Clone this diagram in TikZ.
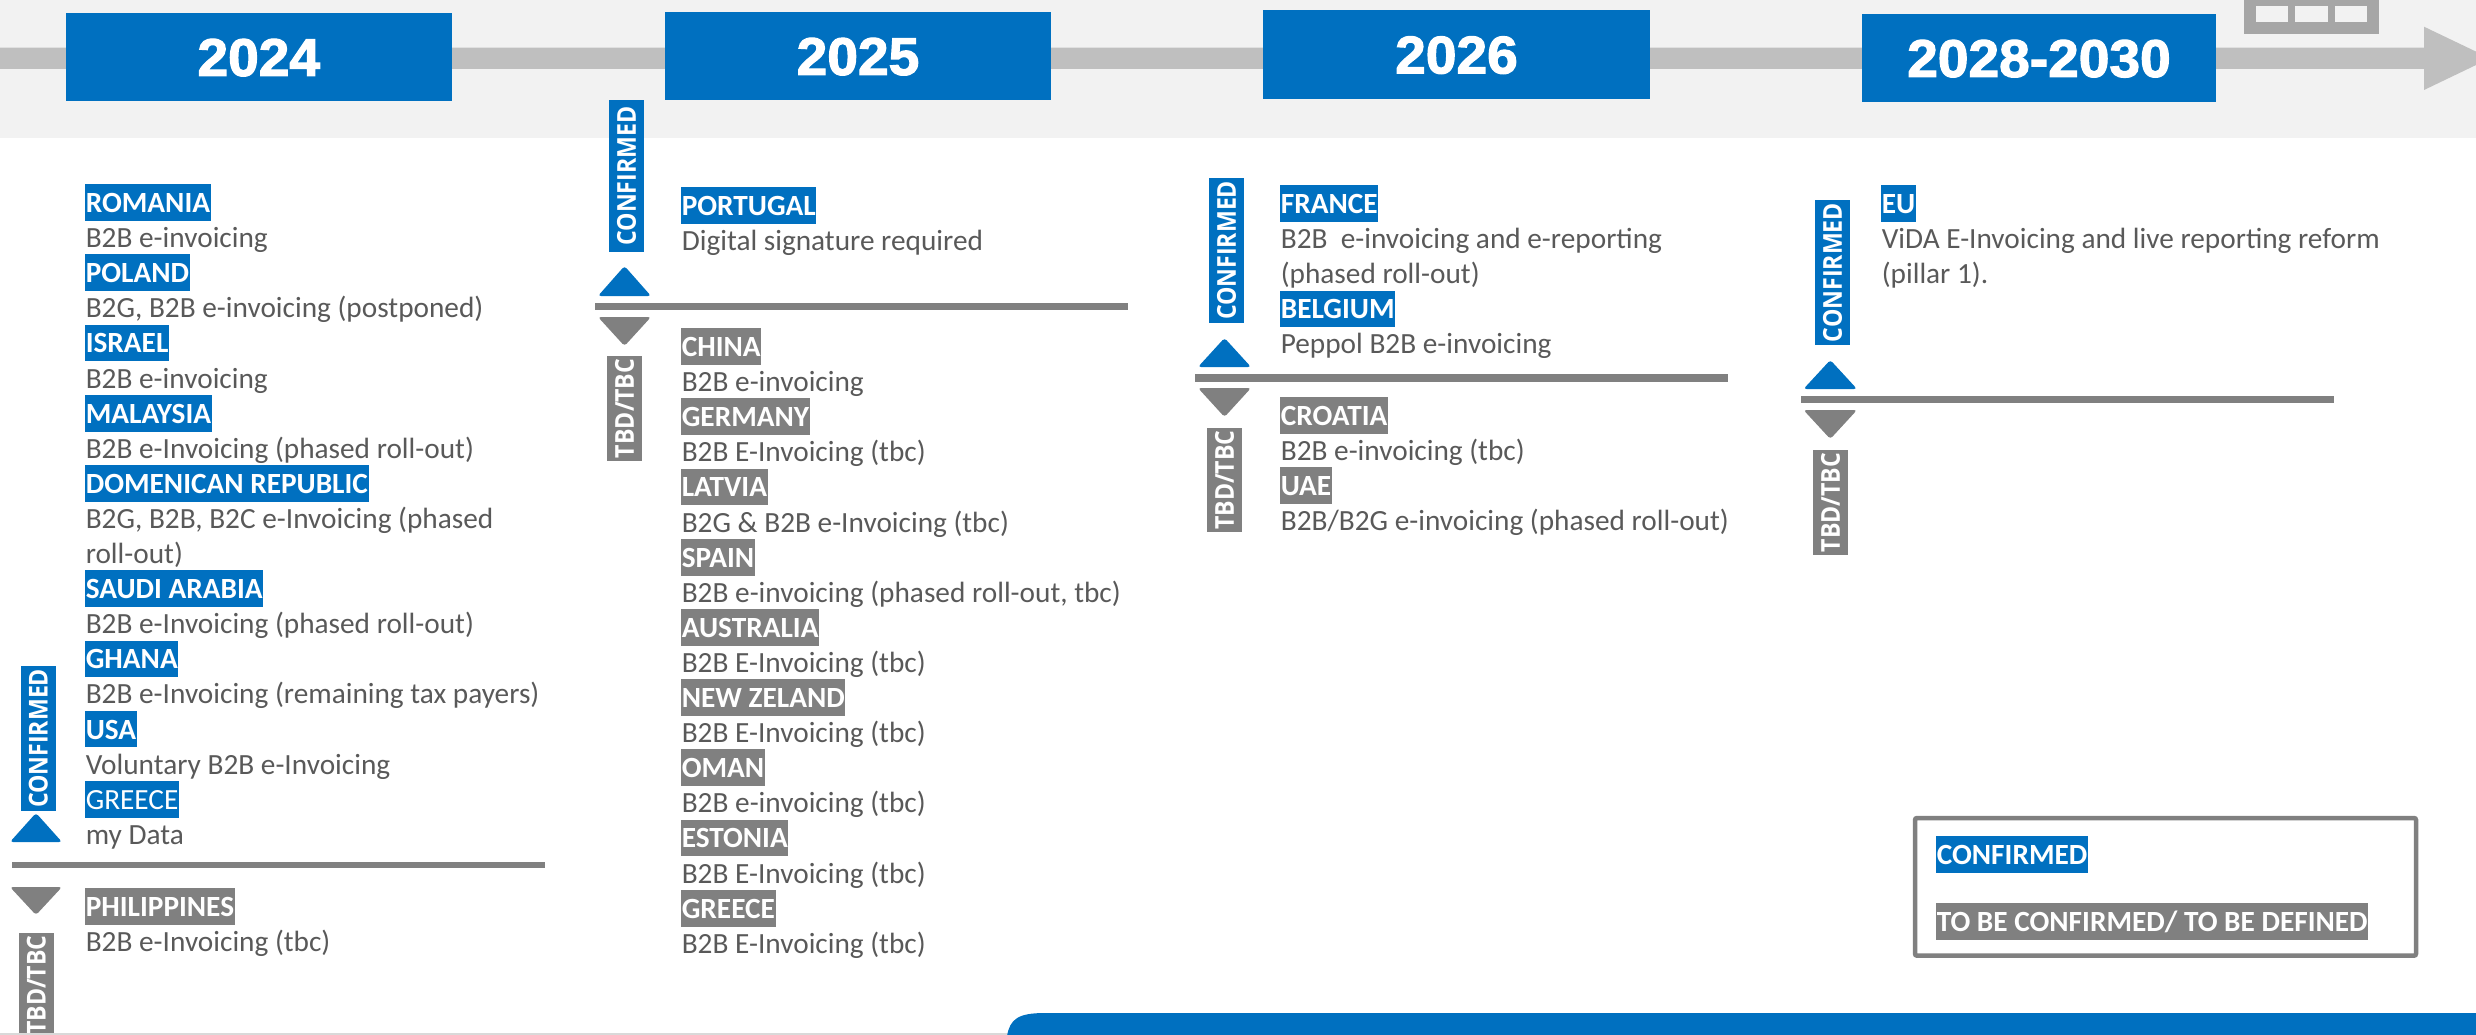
\documentclass[tikz,border=0pt]{standalone}
\usepackage{fontspec}
\usepackage{graphicx}
\setmainfont{Carlito}
\newfontfamily\yearfont{Liberation Sans}[UprightFont={* Bold}, FakeBold=2.2, FakeStretch=1.04]
\newfontfamily\vlabfont{Open Sans}
\definecolor{cblue}{HTML}{0070C0}
\definecolor{cgray}{HTML}{808080}
\definecolor{ctext}{HTML}{595959}
\definecolor{cband}{HTML}{F2F2F2}
\definecolor{cbar}{HTML}{BFBFBF}
\definecolor{cicon}{HTML}{A6A6A6}
\definecolor{cline}{HTML}{D9D9D9}
\newcommand\bodysize{\fontsize{29.3}{35.1}\selectfont}
\tikzset{
  lbl/.style={anchor=north west, inner xsep=0.6pt, inner ysep=0pt, text height=28.3pt, text depth=8.4pt, text=white, font=\bodysize\bfseries},
  bluelbl/.style={lbl, fill=cblue},
  graylbl/.style={lbl, fill=cgray},
  desc/.style={anchor=north west, inner sep=0pt, text height=28.3pt, text depth=8.4pt, text=ctext, font=\bodysize},
  yearbox/.style={fill=cblue, text=white, inner sep=0pt, text height=38pt, text depth=0pt, font=\yearfont\fontsize{53}{53}\selectfont},
  vlab/.style={rotate=90, inner sep=0pt, text=white, text height=18.6pt, text depth=0pt, minimum height=34.8pt, font=\vlabfont\bfseries\fontsize{26}{26}\selectfont},
  sepline/.style={fill=cgray},
  uptri/.style={fill=cblue, rounded corners=3pt},
  downtri/.style={fill=cgray, rounded corners=3pt}
}
\newcommand\vconf{\scalebox{0.89}[1]{CONFIRMED}}
\newcommand\vtbd{\scalebox{0.89}[1]{TBD/TBC}}
\begin{document}
\begin{tikzpicture}[x=1pt,y=-1pt]
\useasboundingbox (0,0) rectangle (2476,1035);
\clip (0,0) rectangle (2476,1035);
% top band
\fill[cband] (0,0) rectangle (2476,138);
\fill[cbar] (0,47.7) -- (2424,47.7) -- (2424,26.7) -- (2490,58.3) -- (2424,90) -- (2424,69) -- (0,69) -- cycle;
% icon
\fill[cicon] (2244,-2) rectangle (2379,33.7);
\fill[cband] (2256,6) rectangle (2288,21.7);
\fill[cband] (2295,6) rectangle (2328,21.7);
\fill[cband] (2335,6) rectangle (2367,21.7);
% years
\node[yearbox, minimum width=386.4pt, minimum height=87.7pt] (y2024) at (258.8,56.9) {2024};
\node[yearbox, minimum width=386pt, minimum height=87.7pt] (y2025) at (858,55.9) {2025};
\node[yearbox, minimum width=387pt, minimum height=88.7pt] (y2026) at (1456.5,54.4) {2026};
\node[yearbox, minimum width=354pt, minimum height=87.7pt] (y2028) at (2039,57.9) {2028-2030};

% ---------- 2024 ----------
\node[vlab, fill=cblue, minimum width=144.7pt] (c24) at (38.4,738.4) {\vconf};
\fill[uptri] (10,842) -- (36,813) -- (62,842) -- cycle;
\fill[sepline] (12,861.7) rectangle (545,868.3);
\fill[downtri] (10,887) -- (62,887) -- (36,915) -- cycle;
\node[vlab, fill=cgray, minimum width=104.7pt] (t24) at (36.4,985) {\vtbd};

\node[bluelbl] (ro) at (85,184) {ROMANIA};
\node[desc] (rod) at (85.6,219.1) {B2B e-invoicing};
\node[bluelbl] (pl) at (85,254.2) {POLAND};
\node[desc] (pld) at (85.6,289.3) {B2G, B2B e-invoicing (postponed)};
\node[bluelbl] (il) at (85,324.4) {ISRAEL};
\node[desc] (ild) at (85.6,359.5) {B2B e-invoicing};
\node[bluelbl] (my) at (85,394.6) {MALAYSIA};
\node[desc] (myd) at (85.6,429.7) {B2B e-Invoicing (phased roll-out)};
\node[bluelbl] (dr) at (85,464.8) {DOMENICAN REPUBLIC};
\node[desc] (drd) at (85.6,499.9) {B2G, B2B, B2C e-Invoicing (phased};
\node[desc] (drd2) at (85.6,535) {roll-out)};
\node[bluelbl] (sa) at (85,570.1) {SAUDI ARABIA};
\node[desc] (sad) at (85.6,605.2) {B2B e-Invoicing (phased roll-out)};
\node[bluelbl] (gh) at (85,640.3) {GHANA};
\node[desc] (ghd) at (85.6,675.4) {B2B e-Invoicing (remaining tax payers)};
\node[bluelbl] (us) at (85,710.5) {USA};
\node[desc] (usd) at (85.6,745.6) {Voluntary B2B e-Invoicing};
\node[bluelbl, font=\bodysize] (gr) at (85,780.7) {GREECE};
\node[desc] (grd) at (85.6,815.8) {my Data};
\node[graylbl] (ph) at (85,888) {PHILIPPINES};
\node[desc] (phd) at (85.6,923.1) {B2B e-Invoicing (tbc)};

% ---------- 2025 ----------
\node[vlab, fill=cblue, minimum width=152pt] (c25) at (626.5,176) {\vconf};
\fill[uptri] (598,296) -- (624.5,266) -- (651,296) -- cycle;
\fill[sepline] (595,302.5) rectangle (1128,309.5);
\fill[downtri] (598,317) -- (651,317) -- (624.5,346) -- cycle;
\node[vlab, fill=cgray, minimum width=104.7pt] (t25) at (624.5,408.4) {\vtbd};

\node[bluelbl] (pt) at (681,187) {PORTUGAL};
\node[desc] (ptd) at (681.6,222.1) {Digital signature required};
\node[graylbl] (cn) at (681,328) {CHINA};
\node[desc] (cnd) at (681.6,363.1) {B2B e-invoicing};
\node[graylbl] (de) at (681,398.2) {GERMANY};
\node[desc] (ded) at (681.6,433.3) {B2B E-Invoicing (tbc)};
\node[graylbl] (lv) at (681,468.4) {LATVIA};
\node[desc] (lvd) at (681.6,503.5) {B2G \& B2B e-Invoicing (tbc)};
\node[graylbl] (es) at (681,538.6) {SPAIN};
\node[desc] (esd) at (681.6,573.7) {B2B e-invoicing (phased roll-out, tbc)};
\node[graylbl] (au) at (681,608.8) {AUSTRALIA};
\node[desc] (aud) at (681.6,643.9) {B2B E-Invoicing (tbc)};
\node[graylbl] (nz) at (681,679) {NEW ZELAND};
\node[desc] (nzd) at (681.6,714.1) {B2B E-Invoicing (tbc)};
\node[graylbl] (om) at (681,749.2) {OMAN};
\node[desc] (omd) at (681.6,784.3) {B2B e-invoicing (tbc)};
\node[graylbl] (ee) at (681,819.4) {ESTONIA};
\node[desc] (eed) at (681.6,854.5) {B2B E-Invoicing (tbc)};
\node[graylbl] (gr2) at (681,889.6) {GREECE};
\node[desc] (gr2d) at (681.6,924.7) {B2B E-Invoicing (tbc)};

% ---------- 2026 ----------
\node[vlab, fill=cblue, minimum width=144.7pt] (c26) at (1226.5,250.4) {\vconf};
\fill[uptri] (1198,367) -- (1224.5,338) -- (1251,367) -- cycle;
\fill[sepline] (1195,374.3) rectangle (1728,381.5);
\fill[downtri] (1198,388) -- (1251,388) -- (1224.5,417) -- cycle;
\node[vlab, fill=cgray, minimum width=104pt] (t26) at (1224.5,480) {\vtbd};

\node[bluelbl] (fr) at (1280,185) {FRANCE};
\node[desc] (frd) at (1280.6,220.1) {B2B\ \ e-invoicing and e-reporting};
\node[desc] (frd2) at (1280.6,255.2) {(phased roll-out)};
\node[bluelbl] (be) at (1280,290.3) {BELGIUM};
\node[desc] (bed) at (1280.6,325.4) {Peppol B2B e-invoicing};
\node[graylbl] (hr) at (1280,397) {CROATIA};
\node[desc] (hrd) at (1280.6,432.1) {B2B e-invoicing (tbc)};
\node[graylbl] (ae) at (1280,467.2) {UAE};
\node[desc] (aed) at (1280.6,502.3) {B2B/B2G e-invoicing (phased roll-out)};

% ---------- 2028-2030 ----------
\node[vlab, fill=cblue, minimum width=145pt] (c28) at (1832.5,272.5) {\vconf};
\fill[uptri] (1803.5,389) -- (1830.3,360) -- (1857,389) -- cycle;
\fill[sepline] (1801,395.5) rectangle (2334,403.2);
\fill[downtri] (1803.5,410) -- (1857,410) -- (1830.3,439) -- cycle;
\node[vlab, fill=cgray, minimum width=105pt] (t28) at (1830.5,502.5) {\vtbd};

\node[bluelbl] (eu) at (1881,185) {EU};
\node[desc] (eud) at (1881.6,220.1) {ViDA E-Invoicing and live reporting reform};
\node[desc] (eud2) at (1881.6,255.2) {(pillar 1).};

% ---------- legend ----------
\draw[cgray, line width=4.5pt, rounded corners=2pt] (1915,818) rectangle (2416,955.7);
\node[bluelbl] (lgc) at (1936,836) {CONFIRMED};
\node[graylbl] (lgt) at (1936,902.7) {TO BE CONFIRMED/ TO BE DEFINED};

% ---------- bottom ----------
\draw[cline, line width=2pt] (0,1033.5) -- (1012,1033.5);
\fill[cblue] (1007,1036) .. controls (1010,1019) and (1018,1013) .. (1045,1013) -- (2477,1013) -- (2477,1036) -- cycle;
\end{tikzpicture}
\end{document}
